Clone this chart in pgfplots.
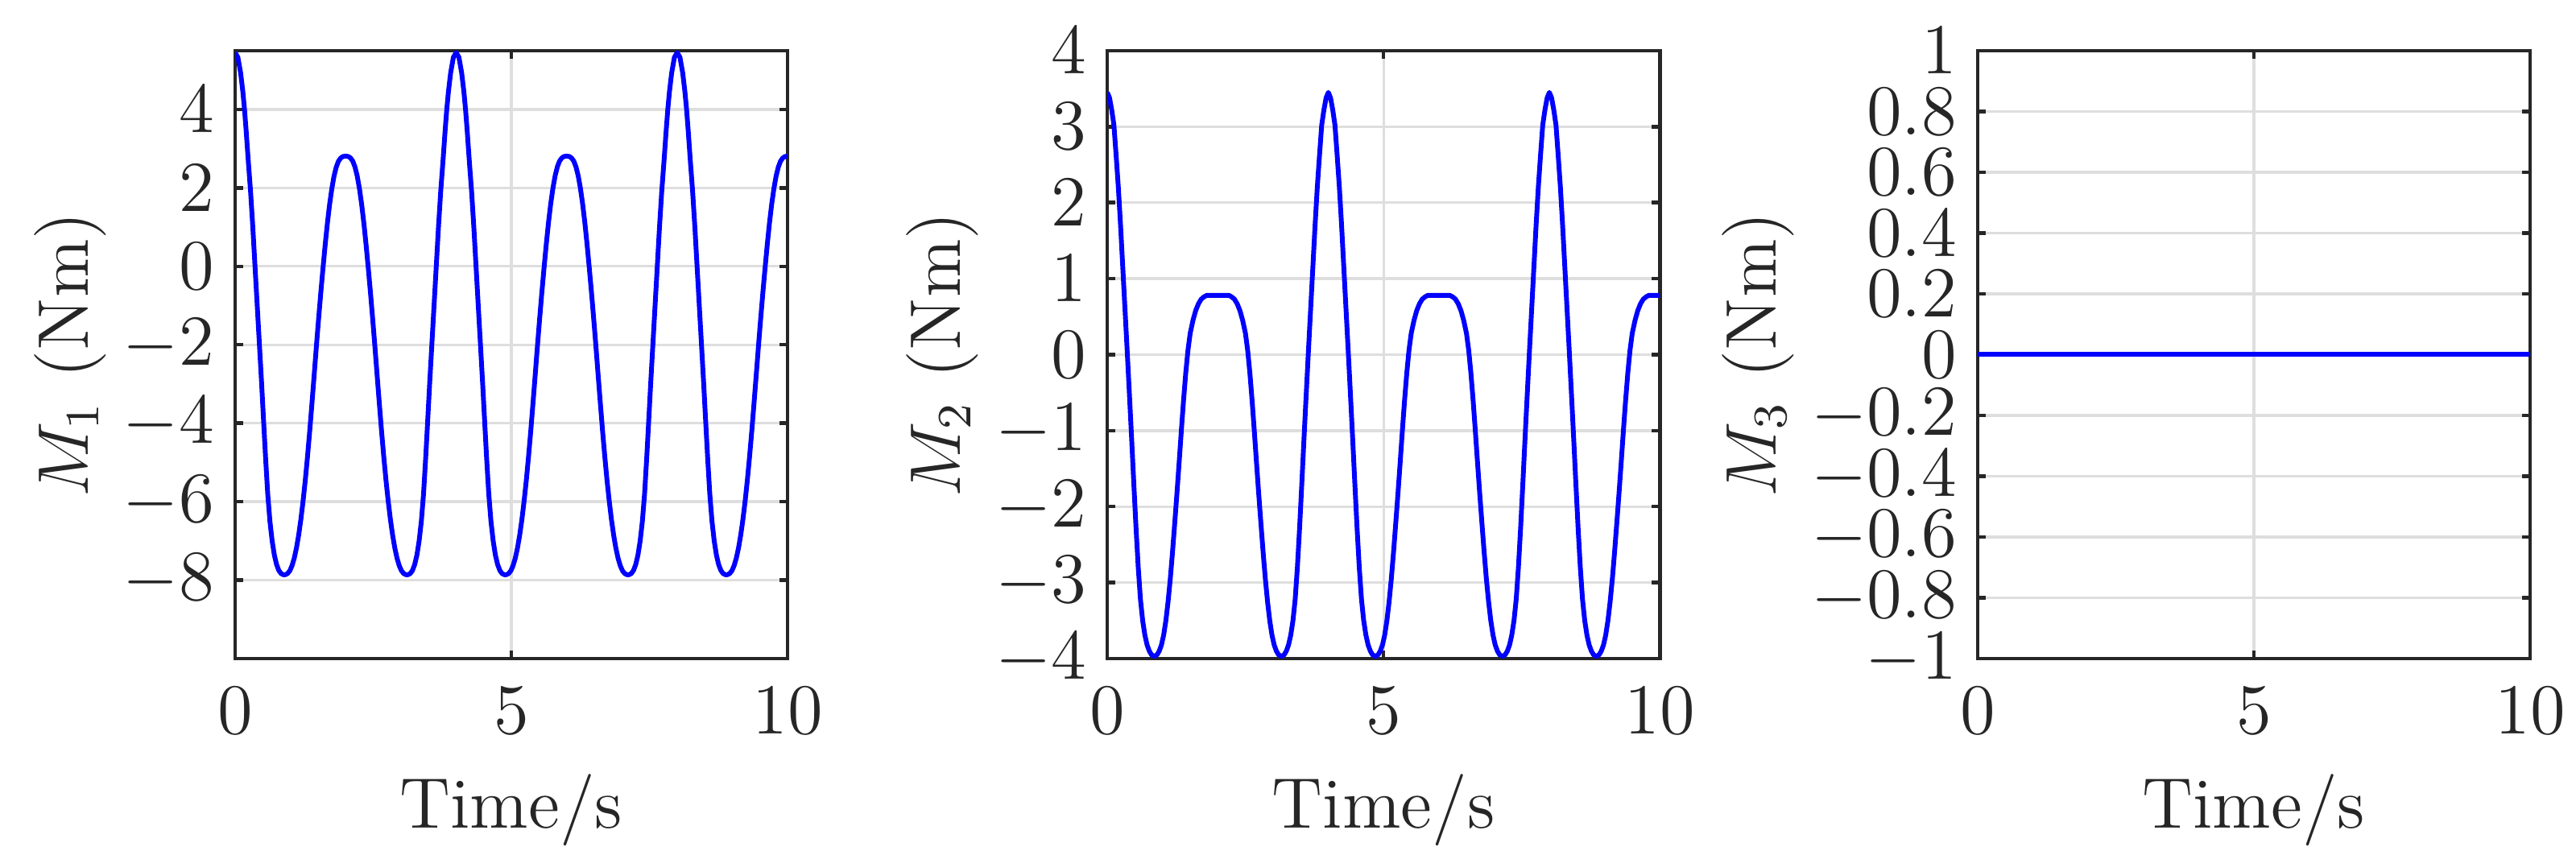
\documentclass[border=0pt]{standalone}
\usepackage{pgfplots}
\pgfplotsset{compat=1.18}

\definecolor{axgray}{RGB}{38,38,38}
\definecolor{gridgray}{RGB}{222,222,222}

\pgfplotsset{
  mpanel/.style={
    scale only axis,
    width=92.5pt, height=101.8pt,
    xmin=0, xmax=10, xtick={0,5,10},
    grid=major,
    grid style={gridgray, line width=0.45pt},
    axis line style={axgray, line width=0.6pt},
    tick style={axgray, line width=0.6pt},
    major tick length=1.4pt,
    tick align=inside, tick pos=both,
    tick label style={font=\fontsize{12}{14}\selectfont, text=axgray},
    label style={font=\fontsize{12}{14}\selectfont, text=axgray},
    xticklabel style={yshift=-1.3pt},
    ylabel shift=-4pt,
    xlabel={Time/s},
    no markers,
    every axis plot/.append style={blue, line width=0.8pt, line join=round},
  }
}

\begin{document}
\begin{tikzpicture}
\useasboundingbox (-39.36pt,-32.08pt) rectangle (391.86pt,110.27pt);

% M1
\begin{axis}[mpanel,
    at={(0pt,0pt)},
    ymin=-10, ymax=5.5,
    ytick={-8,-6,-4,-2,0,2,4},
    ylabel={$M_1$ (Nm)},
  ]
  \addplot coordinates {
    (0.00,5.45) (0.05,5.33) (0.10,4.93) (0.14,4.45) (0.17,4.00) (0.20,3.45)
    (0.24,2.65) (0.28,1.90) (0.32,1.00) (0.36,0.00) (0.40,-1.00) (0.44,-2.00)
    (0.48,-3.00) (0.51,-3.80) (0.55,-4.85) (0.59,-5.80) (0.63,-6.50) (0.67,-7.00)
    (0.71,-7.36) (0.75,-7.60) (0.79,-7.75) (0.83,-7.83) (0.87,-7.86) (0.91,-7.86)
    (0.95,-7.83) (0.99,-7.76) (1.03,-7.63) (1.07,-7.44) (1.11,-7.18) (1.15,-6.85)
    (1.19,-6.45) (1.23,-5.98) (1.27,-5.45) (1.31,-4.85) (1.35,-4.20) (1.39,-3.50)
    (1.43,-2.78) (1.47,-2.05) (1.51,-1.35) (1.55,-0.68) (1.59,-0.05) (1.63,0.55)
    (1.67,1.10) (1.71,1.58) (1.75,1.98) (1.79,2.30) (1.83,2.53) (1.87,2.68)
    (1.91,2.76) (1.95,2.80) (2.00,2.81)
    (2.05,2.80) (2.09,2.76) (2.13,2.68) (2.17,2.53) (2.21,2.30) (2.25,1.98)
    (2.29,1.58) (2.33,1.10) (2.37,0.55) (2.41,-0.05) (2.45,-0.68) (2.49,-1.35)
    (2.53,-2.05) (2.57,-2.78) (2.61,-3.50) (2.65,-4.20) (2.69,-4.85) (2.73,-5.45)
    (2.77,-5.98) (2.81,-6.45) (2.85,-6.85) (2.89,-7.18) (2.93,-7.44) (2.97,-7.63)
    (3.01,-7.76) (3.05,-7.83) (3.09,-7.86) (3.13,-7.86) (3.17,-7.83) (3.21,-7.75)
    (3.25,-7.60) (3.29,-7.36) (3.33,-7.00) (3.37,-6.50) (3.41,-5.80) (3.45,-4.85)
    (3.49,-3.80) (3.52,-3.00) (3.56,-2.00) (3.60,-1.00) (3.64,0.00) (3.68,1.00)
    (3.72,1.90) (3.76,2.65) (3.80,3.45) (3.83,4.00) (3.86,4.45) (3.90,4.93)
    (3.95,5.33) (4.00,5.45)
    (4.05,5.33) (4.10,4.93) (4.14,4.45) (4.17,4.00) (4.20,3.45)
    (4.24,2.65) (4.28,1.90) (4.32,1.00) (4.36,0.00) (4.40,-1.00) (4.44,-2.00)
    (4.48,-3.00) (4.51,-3.80) (4.55,-4.85) (4.59,-5.80) (4.63,-6.50) (4.67,-7.00)
    (4.71,-7.36) (4.75,-7.60) (4.79,-7.75) (4.83,-7.83) (4.87,-7.86) (4.91,-7.86)
    (4.95,-7.83) (4.99,-7.76) (5.03,-7.63) (5.07,-7.44) (5.11,-7.18) (5.15,-6.85)
    (5.19,-6.45) (5.23,-5.98) (5.27,-5.45) (5.31,-4.85) (5.35,-4.20) (5.39,-3.50)
    (5.43,-2.78) (5.47,-2.05) (5.51,-1.35) (5.55,-0.68) (5.59,-0.05) (5.63,0.55)
    (5.67,1.10) (5.71,1.58) (5.75,1.98) (5.79,2.30) (5.83,2.53) (5.87,2.68)
    (5.91,2.76) (5.95,2.80) (6.00,2.81)
    (6.05,2.80) (6.09,2.76) (6.13,2.68) (6.17,2.53) (6.21,2.30) (6.25,1.98)
    (6.29,1.58) (6.33,1.10) (6.37,0.55) (6.41,-0.05) (6.45,-0.68) (6.49,-1.35)
    (6.53,-2.05) (6.57,-2.78) (6.61,-3.50) (6.65,-4.20) (6.69,-4.85) (6.73,-5.45)
    (6.77,-5.98) (6.81,-6.45) (6.85,-6.85) (6.89,-7.18) (6.93,-7.44) (6.97,-7.63)
    (7.01,-7.76) (7.05,-7.83) (7.09,-7.86) (7.13,-7.86) (7.17,-7.83) (7.21,-7.75)
    (7.25,-7.60) (7.29,-7.36) (7.33,-7.00) (7.37,-6.50) (7.41,-5.80) (7.45,-4.85)
    (7.49,-3.80) (7.52,-3.00) (7.56,-2.00) (7.60,-1.00) (7.64,0.00) (7.68,1.00)
    (7.72,1.90) (7.76,2.65) (7.80,3.45) (7.83,4.00) (7.86,4.45) (7.90,4.93)
    (7.95,5.33) (8.00,5.45)
    (8.05,5.33) (8.10,4.93) (8.14,4.45) (8.17,4.00) (8.20,3.45)
    (8.24,2.65) (8.28,1.90) (8.32,1.00) (8.36,0.00) (8.40,-1.00) (8.44,-2.00)
    (8.48,-3.00) (8.51,-3.80) (8.55,-4.85) (8.59,-5.80) (8.63,-6.50) (8.67,-7.00)
    (8.71,-7.36) (8.75,-7.60) (8.79,-7.75) (8.83,-7.83) (8.87,-7.86) (8.91,-7.86)
    (8.95,-7.83) (8.99,-7.76) (9.03,-7.63) (9.07,-7.44) (9.11,-7.18) (9.15,-6.85)
    (9.19,-6.45) (9.23,-5.98) (9.27,-5.45) (9.31,-4.85) (9.35,-4.20) (9.39,-3.50)
    (9.43,-2.78) (9.47,-2.05) (9.51,-1.35) (9.55,-0.68) (9.59,-0.05) (9.63,0.55)
    (9.67,1.10) (9.71,1.58) (9.75,1.98) (9.79,2.30) (9.83,2.53) (9.87,2.68)
    (9.91,2.76) (9.95,2.80) (10.00,2.81)
  };
\end{axis}

% M2
\begin{axis}[mpanel,
    at={(146pt,0pt)},
    ymin=-4, ymax=4,
    ytick={-4,-3,-2,-1,0,1,2,3,4},
    ylabel={$M_2$ (Nm)},
  ]
  \addplot coordinates {
    (0.00,3.45) (0.04,3.38) (0.08,3.22) (0.12,3.02) (0.16,2.62) (0.20,2.20)
    (0.24,1.70) (0.28,1.15) (0.32,0.60) (0.36,0.05) (0.40,-0.52) (0.44,-1.10)
    (0.48,-1.70) (0.52,-2.28) (0.56,-2.80) (0.60,-3.22) (0.64,-3.50) (0.68,-3.69)
    (0.72,-3.82) (0.76,-3.90) (0.80,-3.95) (0.85,-3.97) (0.90,-3.95) (0.94,-3.90)
    (0.98,-3.82) (1.02,-3.69) (1.06,-3.50) (1.10,-3.25) (1.14,-2.95) (1.18,-2.60)
    (1.22,-2.22) (1.26,-1.83) (1.30,-1.42) (1.34,-1.00) (1.38,-0.60) (1.42,-0.24)
    (1.46,0.06) (1.50,0.28) (1.55,0.45) (1.60,0.58) (1.65,0.67) (1.70,0.73)
    (1.75,0.76) (1.80,0.78) (1.90,0.78) (2.00,0.78)
    (2.10,0.78) (2.20,0.78) (2.25,0.76) (2.30,0.73) (2.35,0.67) (2.40,0.58)
    (2.45,0.45) (2.50,0.28) (2.54,0.06) (2.58,-0.24) (2.62,-0.60) (2.66,-1.00)
    (2.70,-1.42) (2.74,-1.83) (2.78,-2.22) (2.82,-2.60) (2.86,-2.95) (2.90,-3.25)
    (2.94,-3.50) (2.98,-3.69) (3.02,-3.82) (3.06,-3.90) (3.10,-3.95) (3.15,-3.97)
    (3.20,-3.95) (3.24,-3.90) (3.28,-3.82) (3.32,-3.69) (3.36,-3.50) (3.40,-3.22)
    (3.44,-2.80) (3.48,-2.28) (3.52,-1.70) (3.56,-1.10) (3.60,-0.52) (3.64,0.05)
    (3.68,0.60) (3.72,1.15) (3.76,1.70) (3.80,2.20) (3.84,2.62) (3.88,3.02)
    (3.92,3.22) (3.96,3.38) (4.00,3.45)
    (4.04,3.38) (4.08,3.22) (4.12,3.02) (4.16,2.62) (4.20,2.20)
    (4.24,1.70) (4.28,1.15) (4.32,0.60) (4.36,0.05) (4.40,-0.52) (4.44,-1.10)
    (4.48,-1.70) (4.52,-2.28) (4.56,-2.80) (4.60,-3.22) (4.64,-3.50) (4.68,-3.69)
    (4.72,-3.82) (4.76,-3.90) (4.80,-3.95) (4.85,-3.97) (4.90,-3.95) (4.94,-3.90)
    (4.98,-3.82) (5.02,-3.69) (5.06,-3.50) (5.10,-3.25) (5.14,-2.95) (5.18,-2.60)
    (5.22,-2.22) (5.26,-1.83) (5.30,-1.42) (5.34,-1.00) (5.38,-0.60) (5.42,-0.24)
    (5.46,0.06) (5.50,0.28) (5.55,0.45) (5.60,0.58) (5.65,0.67) (5.70,0.73)
    (5.75,0.76) (5.80,0.78) (5.90,0.78) (6.00,0.78)
    (6.10,0.78) (6.20,0.78) (6.25,0.76) (6.30,0.73) (6.35,0.67) (6.40,0.58)
    (6.45,0.45) (6.50,0.28) (6.54,0.06) (6.58,-0.24) (6.62,-0.60) (6.66,-1.00)
    (6.70,-1.42) (6.74,-1.83) (6.78,-2.22) (6.82,-2.60) (6.86,-2.95) (6.90,-3.25)
    (6.94,-3.50) (6.98,-3.69) (7.02,-3.82) (7.06,-3.90) (7.10,-3.95) (7.15,-3.97)
    (7.20,-3.95) (7.24,-3.90) (7.28,-3.82) (7.32,-3.69) (7.36,-3.50) (7.40,-3.22)
    (7.44,-2.80) (7.48,-2.28) (7.52,-1.70) (7.56,-1.10) (7.60,-0.52) (7.64,0.05)
    (7.68,0.60) (7.72,1.15) (7.76,1.70) (7.80,2.20) (7.84,2.62) (7.88,3.02)
    (7.92,3.22) (7.96,3.38) (8.00,3.45)
    (8.04,3.38) (8.08,3.22) (8.12,3.02) (8.16,2.62) (8.20,2.20)
    (8.24,1.70) (8.28,1.15) (8.32,0.60) (8.36,0.05) (8.40,-0.52) (8.44,-1.10)
    (8.48,-1.70) (8.52,-2.28) (8.56,-2.80) (8.60,-3.22) (8.64,-3.50) (8.68,-3.69)
    (8.72,-3.82) (8.76,-3.90) (8.80,-3.95) (8.85,-3.97) (8.90,-3.95) (8.94,-3.90)
    (8.98,-3.82) (9.02,-3.69) (9.06,-3.50) (9.10,-3.25) (9.14,-2.95) (9.18,-2.60)
    (9.22,-2.22) (9.26,-1.83) (9.30,-1.42) (9.34,-1.00) (9.38,-0.60) (9.42,-0.24)
    (9.46,0.06) (9.50,0.28) (9.55,0.45) (9.60,0.58) (9.65,0.67) (9.70,0.73)
    (9.75,0.76) (9.80,0.78) (9.90,0.78) (10.00,0.78)
  };
\end{axis}

% M3
\begin{axis}[mpanel,
    at={(291.7pt,0pt)},
    ymin=-1, ymax=1,
    ytick={-1,-0.8,-0.6,-0.4,-0.2,0,0.2,0.4,0.6,0.8,1},
    ylabel={$M_3$ (Nm)},
  ]
  \addplot coordinates {(0,0) (2.5,0) (5,0) (7.5,0) (10,0)};
\end{axis}
\end{tikzpicture}
\end{document}
